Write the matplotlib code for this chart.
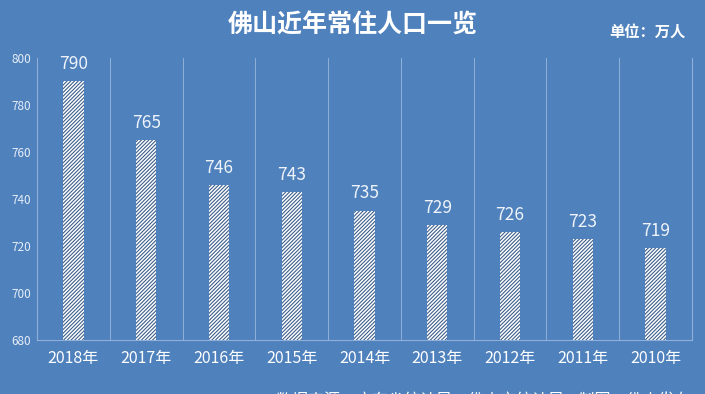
import matplotlib
matplotlib.use("Agg")
import matplotlib.pyplot as plt
import numpy as np

years = ["2018年", "2017年", "2016年", "2015年", "2014年", "2013年", "2012年", "2011年", "2010年"]
population = [790, 765, 746, 743, 735, 729, 726, 723, 719]
y_ticks = [680, 700, 720, 740, 760, 780, 800]

BG = "#4f81bd"
GRID = "#8fb0d8"
HATCH = "#3d5f8c"

plt.rcParams["font.family"] = ["Noto Sans CJK SC", "DejaVu Sans"]
plt.rcParams["hatch.color"] = HATCH
plt.rcParams["hatch.linewidth"] = 0.8

fig = plt.figure(figsize=(7.05, 3.94), dpi=100, facecolor=BG)
ax = fig.add_axes([0.0525, 0.137, 0.929, 0.716])
ax.set_facecolor(BG)

x = np.arange(len(years))
bars = ax.bar(x, population, width=0.28, color="white", edgecolor=HATCH,
              linewidth=0, hatch="/////////", zorder=3)

for xi, v in zip(x, population):
    ax.text(xi, v + 3.5, str(v), ha="center", va="bottom",
            color="#eef3fa", fontsize=12.5, zorder=4)

ax.set_ylim(680, 800)
ax.set_xlim(-0.5, len(years) - 0.5)
ax.set_yticks(y_ticks)
ax.set_yticklabels([str(t) for t in y_ticks], fontsize=8.5, color="#e6eef8")
ax.set_xticks(x)
ax.set_xticklabels(years, fontsize=11.5, color="white")
ax.tick_params(axis="both", length=0, pad=4)
ax.tick_params(axis="x", pad=7)

# vertical separators between categories
for b in np.arange(0.5, len(years), 1.0):
    ax.axvline(b, color=GRID, linewidth=0.7, zorder=1)

ax.spines["top"].set_visible(False)
for side in ["left", "right", "bottom"]:
    ax.spines[side].set_color(GRID)
    ax.spines[side].set_linewidth(0.8)

fig.text(0.5, 0.935, "佛山近年常住人口一览", ha="center", va="center",
         color="white", fontsize=18, fontweight="bold")
fig.text(0.972, 0.92, "单位：万人", ha="right", va="center",
         color="white", fontsize=11, fontweight="bold")
# source line is partly cut off by the bottom edge, as in the original
fig.text(0.98, -0.018, "数据来源：广东省统计局、佛山市统计局    制图：佛山发布",
         ha="right", va="center", color="white", fontsize=11.5)

fig.savefig("out.png", dpi=100, facecolor=BG)
